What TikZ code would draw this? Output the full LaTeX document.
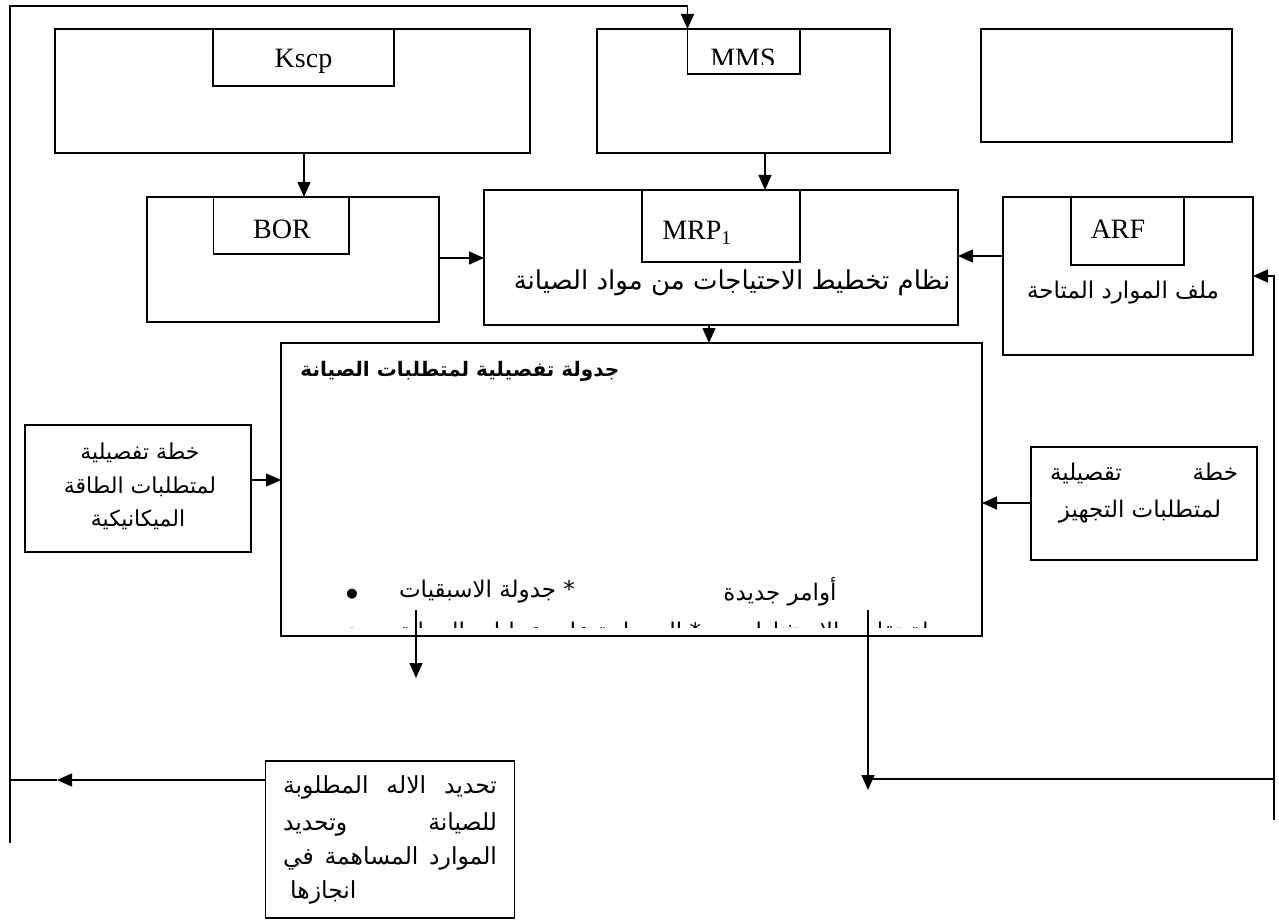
\documentclass[tikz,border=0pt]{standalone}
\usepackage{fontspec}
\setmainfont{Liberation Serif}
\newfontfamily\ar[Script=Arabic]{DejaVu Sans}
\TeXXeTstate=1
\usetikzlibrary{arrows.meta}
\newcommand\rl[1]{\beginR#1\endR}
\begin{document}
\begin{tikzpicture}[x=1pt,y=-1pt,
 box/.style={draw, line width=1.5pt, inner sep=0pt, outer sep=0pt},
 arr/.style={line width=1.5pt, -{Triangle[length=15pt,width=13pt]}},
 ln/.style={line width=1.5pt},
 lat/.style={font=\fontsize{28}{30}\selectfont, inner sep=0pt},
 art/.style={font=\ar\fontsize{23}{26}\selectfont, inner sep=0pt},
 arl/.style={font=\ar\fontsize{22}{26}\selectfont, inner sep=0pt},
 arm/.style={font=\ar\fontsize{26}{30}\selectfont, inner sep=0pt},
 arbt/.style={font=\ar\fontsize{23.5}{28}\selectfont, inner sep=0pt},
 artb/.style={font=\ar\bfseries\fontsize{20}{24}\selectfont, inner sep=0pt},
 bull/.style={font=\ar\fontsize{13}{14}\selectfont, inner sep=0pt},
]
\useasboundingbox (0,0) rectangle (1279,920);
\fill[white] (0,0) rectangle (1279,920);

% boxes
\node[box, minimum width=475pt, minimum height=124pt] (kscp) at (292.5,91) {};
\node[box, minimum width=181pt, minimum height=57pt] (kscpi) at (303.5,57.5) {};
\node[box, minimum width=293pt, minimum height=124pt] (mms) at (743.5,91) {};
\node[box, minimum width=112.5pt, minimum height=45pt] (mmsi) at (743.75,51.5) {};
\node[box, minimum width=251pt, minimum height=113pt] (empty) at (1106.5,85.5) {};
\node[box, minimum width=292pt, minimum height=125pt] (bor) at (293,259.5) {};
\node[box, minimum width=135.5pt, minimum height=57pt] (bori) at (281.25,225.5) {};
\node[box, minimum width=474pt, minimum height=135pt] (mrp) at (721,257.5) {};
\node[box, minimum width=158pt, minimum height=72pt] (mrpi) at (721,226) {};
\node[box, minimum width=250pt, minimum height=158pt] (arf) at (1128,276) {};
\node[box, minimum width=113pt, minimum height=68pt] (arfi) at (1127.5,231) {};
\node[box, minimum width=701pt, minimum height=293pt] (big) at (631.5,489.5) {};
\node[box, minimum width=226pt, minimum height=127pt] (leftb) at (138,488.5) {};
\node[box, minimum width=226pt, minimum height=113pt] (rightb) at (1144,503.5) {};
\node[box, minimum width=249pt, minimum height=157pt] (bottomb) at (390,839.5) {};

% latin labels
\node[lat, anchor=base] (tk) at (303.5,68) {Kscp};
\begin{scope}
\clip (688,30) rectangle (799,65);
\node[lat, anchor=base] (tm) at (743,68) {MMS};
\end{scope}
\node[lat, anchor=base] (tb) at (282,238) {BOR};
\node[lat, anchor=base] (tr) at (697,240) {MRP\textsubscript{1}};
\node[lat, anchor=base] (ta) at (1118,238) {ARF};

% arabic labels
\node[arm] (t1) at (732,283) {\rl{نظام تخطيط الاحتياجات من مواد الصيانة}};
\node[art] (t2) at (1123,293) {\rl{ملف الموارد المتاحة}};
\node[artb] (t3) at (460,371) {\rl{جدولة تفصيلية لمتطلبات الصيانة}};
\node[arl] (t4a) at (140,453) {\rl{خطة تفصيلية}};
\node[arl] (t4b) at (140,487) {\rl{لمتطلبات الطاقة}};
\node[arl] (t4c) at (138,520) {\rl{الميكانيكية}};
\node[art] (t5a) at (1144,473) {\hbox to 188pt{\beginR خطة\hfill تقصيلية\endR}};
\node[art] (t5b) at (1140,512) {\rl{لمتطلبات التجهيز}};
\node[bull] (bul) at (352,594) {●};
\node[art] (t6a) at (487,592) {\rl{* جدولة الاسبقيات}};
\node[art] (t6b) at (780,592) {\rl{أوامر جديدة}};
\begin{scope}
\clip (282,600) rectangle (981,627);
\node[bull] (bul2) at (352,633) {●};
\node[art] (t7a) at (550,634) {\rl{* السيطرة على عمليات الصيانة}};
\node[art] (t7b) at (850,634) {\rl{جدولة تقارير الاستثناءات}};
\end{scope}
\node[arbt] (t8a) at (390,787) {\hbox to 214pt{\beginR تحديد\hfill الاله\hfill المطلوبة\endR}};
\node[arbt] (t8b) at (390,824) {\hbox to 214pt{\beginR للصيانة\hfill وتحديد\endR}};
\node[arbt] (t8c) at (390,858) {\hbox to 214pt{\beginR الموارد\hfill المساهمة\hfill في\endR}};
\node[arbt, anchor=west] (t8d) at (290,892) {\rl{انجازها}};

% coordinates
\coordinate (tl) at (10,6);
\coordinate (lb) at (10,843);
\coordinate (la) at (57,780);
\coordinate (lj) at (10,780);
\coordinate (d1s) at (416,610);
\coordinate (d1e) at (416,678);
\coordinate (d2s) at (868,610);
\coordinate (d2e) at (868,790);
\coordinate (rb) at (1274,820);
\coordinate (rt) at (1274,276);
\coordinate (rj) at (1274,779);
\coordinate (rj2) at (868,779);

% connectors
\draw[arr] (lb) -- (tl) -| (mmsi.north west);
\draw[arr] (kscp.south -| 304,0) -- (bor.north -| 304,0);
\draw[arr] (mms.south -| 765,0) -- (mrp.north -| 765,0);
\draw[arr] (bor.east |- 0,258) -- (mrp.west |- 0,258);
\draw[arr] (arf.west |- 0,256) -- (mrp.east |- 0,256);
\draw[arr] (mrp.south -| 709,0) -- (big.north -| 709,0);
\draw[arr] (leftb.east |- 0,480) -- (big.west |- 0,480);
\draw[arr] (rightb.west |- 0,503) -- (big.east |- 0,503);
\draw[arr] (rb) -- (rt) -- (arf.east |- rt);
\draw[ln] (rj) -- (rj2);
\draw[arr] (d1s) -- (d1e);
\draw[arr] (d2s) -- (d2e);
\draw[arr] (bottomb.west |- la) -- (la);
\draw[ln] (la) -- (lj);
\end{tikzpicture}
\end{document}
